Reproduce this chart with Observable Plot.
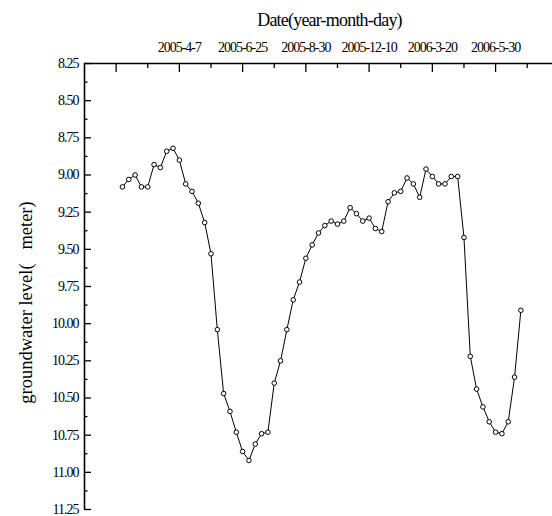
<!DOCTYPE html>
<html><head><meta charset="utf-8">
<script src="https://cdn.jsdelivr.net/npm/d3@7"></script>
<script src="https://cdn.jsdelivr.net/npm/@observablehq/plot@0.6"></script>
<style>
html,body{margin:0;padding:0;background:#fff;}
svg{display:block;}
</style></head><body>
<div id="chart"></div>
<script>
// groundwater level (m) per survey, in survey order
const levels = [
  9.08, 9.03, 9.00, 9.08, 9.08, 8.93, 8.95, 8.84, 8.82, 8.90,
  9.06, 9.11, 9.19, 9.32, 9.53, 10.04, 10.47, 10.59, 10.73, 10.86,
  10.92, 10.81, 10.74, 10.73, 10.40, 10.25, 10.04, 9.84, 9.72, 9.56,
  9.47, 9.39, 9.34, 9.31, 9.33, 9.31, 9.22, 9.26, 9.31, 9.29,
  9.36, 9.38, 9.18, 9.12, 9.11, 9.02, 9.06, 9.15, 8.96, 9.01,
  9.06, 9.06, 9.01, 9.01, 9.42, 10.22, 10.44, 10.56, 10.66, 10.73,
  10.74, 10.66, 10.36, 9.91
];
const xDomain = [-5, 69];
const xMajorTicks = [0, 10, 20, 30, 40, 50, 60];
const xMinorTicks = [5, 15, 25, 35, 45, 55, 65];
const xLabelTicks = [10, 20, 30, 40, 50, 60];
const xTickLabels = ["2005-4-7", "2005-6-25", "2005-8-30", "2005-12-10", "2006-3-20", "2006-5-30"];
const yDomain = [8.25, 11.25];
const yMajorTicks = [8.25, 8.50, 8.75, 9.00, 9.25, 9.50, 9.75, 10.00, 10.25, 10.50, 10.75, 11.00, 11.25];
const yMinorTicks = [8.375, 8.625, 8.875, 9.125, 9.375, 9.625, 9.875, 10.125, 10.375, 10.625, 10.875, 11.125];
const xTitle = "Date(year-month-day)";
const yTitle = "groundwater level(\u00a0\u00a0\u00a0meter)";

const data = levels.map((v, i) => ({n: i + 1, level: v}));

const W = 552, H = 516, mL = 84, mR = 0, mT = 63, mB = 7;
const innerW = W - mL - mR, innerH = H - mT - mB;

const svg = Plot.plot({
  width: W, height: H,
  marginLeft: mL, marginRight: mR, marginTop: mT, marginBottom: mB,
  style: {fontFamily: "'Liberation Serif','Times New Roman',serif", fontSize: "14px", background: "#fff", color: "#000", letterSpacing: "-1px"},
  x: {domain: xDomain, axis: null},
  y: {domain: yDomain, reverse: true, axis: null},
  marks: [
    Plot.ruleY([yDomain[0]], {stroke: "#000", strokeWidth: 1.6}),
    Plot.ruleX([xDomain[0]], {stroke: "#000", strokeWidth: 1.6}),
    Plot.ruleX(xMajorTicks, {x: d => d, stroke: "#000", strokeWidth: 1.3, insetBottom: innerH - 9}),
    Plot.ruleX(xMinorTicks, {x: d => d, stroke: "#000", strokeWidth: 1.3, insetBottom: innerH - 5}),
    Plot.ruleY(yMajorTicks, {y: d => d, stroke: "#000", strokeWidth: 1.3, insetRight: innerW - 7}),
    Plot.ruleY(yMinorTicks, {y: d => d, stroke: "#000", strokeWidth: 1.3, insetRight: innerW - 3.5}),
    Plot.axisX(xLabelTicks, {anchor: "top", tickSize: 0, tickPadding: 12, label: null,
      tickFormat: d => xTickLabels[xLabelTicks.indexOf(d)], fill: "#000"}),
    Plot.axisY(yMajorTicks, {anchor: "left", tickSize: 0, tickPadding: 6, label: null,
      tickFormat: d3.format(".2f"), fill: "#000"}),
    Plot.text([xTitle], {frameAnchor: "top", text: d => d, dx: 11, dy: -43, fontSize: 18, fill: "#000", textAnchor: "middle", lineAnchor: "middle"}),
    Plot.text([yTitle], {frameAnchor: "left", text: d => d, dx: -58, dy: 16, rotate: -90, fontSize: 18.5, fill: "#000", textAnchor: "middle", lineAnchor: "middle"}),
    Plot.line(data, {x: "n", y: "level", stroke: "#000", strokeWidth: 1}),
    Plot.dot(data, {x: "n", y: "level", r: 2.3, fill: "#fff", stroke: "#000", strokeWidth: 1})
  ]
});
d3.select(svg).selectAll("text").filter(function() { return this.textContent === xTitle; }).style("letter-spacing", "-0.8px");
d3.select(svg).selectAll("text").filter(function() { return this.textContent === yTitle; }).style("letter-spacing", "0px");
document.getElementById("chart").appendChild(svg);
</script>
</body></html>
